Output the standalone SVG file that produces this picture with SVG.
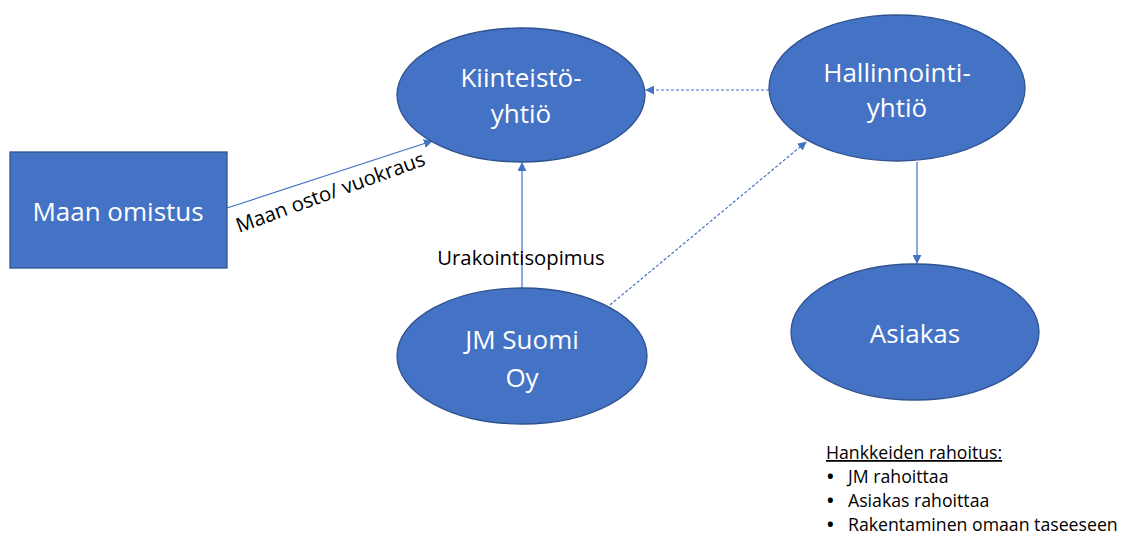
<svg xmlns="http://www.w3.org/2000/svg" width="1131" height="536" viewBox="0 0 1131 536">
<style>
.node{fill:#4472C4;stroke:#2F528F;stroke-width:1.3}
.nt{font-family:"Open Sans","Liberation Sans",sans-serif;font-size:26px;fill:#fff;text-anchor:middle}
.lbl{font-family:"Open Sans","Liberation Sans",sans-serif;font-size:20.3px;fill:#000}
.leg{font-family:"Open Sans","Liberation Sans",sans-serif;font-size:17.7px;fill:#000}
.bul{font-weight:bold}
.c{stroke:#4472C4;stroke-width:1.2;fill:none}
.d{stroke-dasharray:3 2}
</style>
<defs>
<marker id="ah" viewBox="0 0 10 10" refX="9" refY="5" markerWidth="9" markerHeight="9" markerUnits="userSpaceOnUse" orient="auto">
<path d="M0,0 L10,5 L0,10 z" fill="#4472C4"/>
</marker>
</defs>
<rect width="1131" height="536" fill="#fff"/>
<g id="connectors">
<line class="c" x1="227" y1="208" x2="432" y2="141" marker-end="url(#ah)"/>
<line class="c" x1="522" y1="288" x2="522" y2="163" marker-end="url(#ah)"/>
<line class="c d" x1="610" y1="305" x2="806" y2="142" marker-end="url(#ah)"/>
<line class="c d" x1="769" y1="90" x2="646" y2="90" marker-end="url(#ah)"/>
<line class="c" x1="917" y1="162" x2="917" y2="263" marker-end="url(#ah)"/>
<text class="lbl" x="0" y="0" transform="translate(239,233) rotate(-20)">Maan osto/ vuokraus</text>
<text class="lbl" x="521" y="265" text-anchor="middle">Urakointisopimus</text>
</g>
<g id="maan-omistus">
<rect class="node" x="10" y="152" width="217" height="116"/>
<text class="nt" x="118" y="221">Maan omistus</text>
</g>
<g id="kiinteisto">
<ellipse class="node" cx="521" cy="95" rx="124" ry="67"/>
<text class="nt" x="521" y="87">Kiinteistö-</text>
<text class="nt" x="521" y="123">yhtiö</text>
</g>
<g id="hallinnointi">
<ellipse class="node" cx="897" cy="88" rx="128" ry="73"/>
<text class="nt" x="897" y="82">Hallinnointi-</text>
<text class="nt" x="897" y="117">yhtiö</text>
</g>
<g id="asiakas">
<ellipse class="node" cx="915" cy="332" rx="124" ry="68"/>
<text class="nt" x="915" y="343">Asiakas</text>
</g>
<g id="jm-suomi">
<ellipse class="node" cx="522" cy="356" rx="125" ry="68"/>
<text class="nt" x="522" y="349">JM Suomi</text>
<text class="nt" x="522" y="387">Oy</text>
</g>
<g id="legend" class="leg">
<text x="826" y="459" text-decoration="underline">Hankkeiden rahoitus:</text>
<text class="bul" x="827" y="483">•</text>
<text x="848" y="483">JM rahoittaa</text>
<text class="bul" x="827" y="507">•</text>
<text x="848" y="507">Asiakas rahoittaa</text>
<text class="bul" x="827" y="531">•</text>
<text x="848" y="531">Rakentaminen omaan taseeseen</text>
</g>
</svg>
